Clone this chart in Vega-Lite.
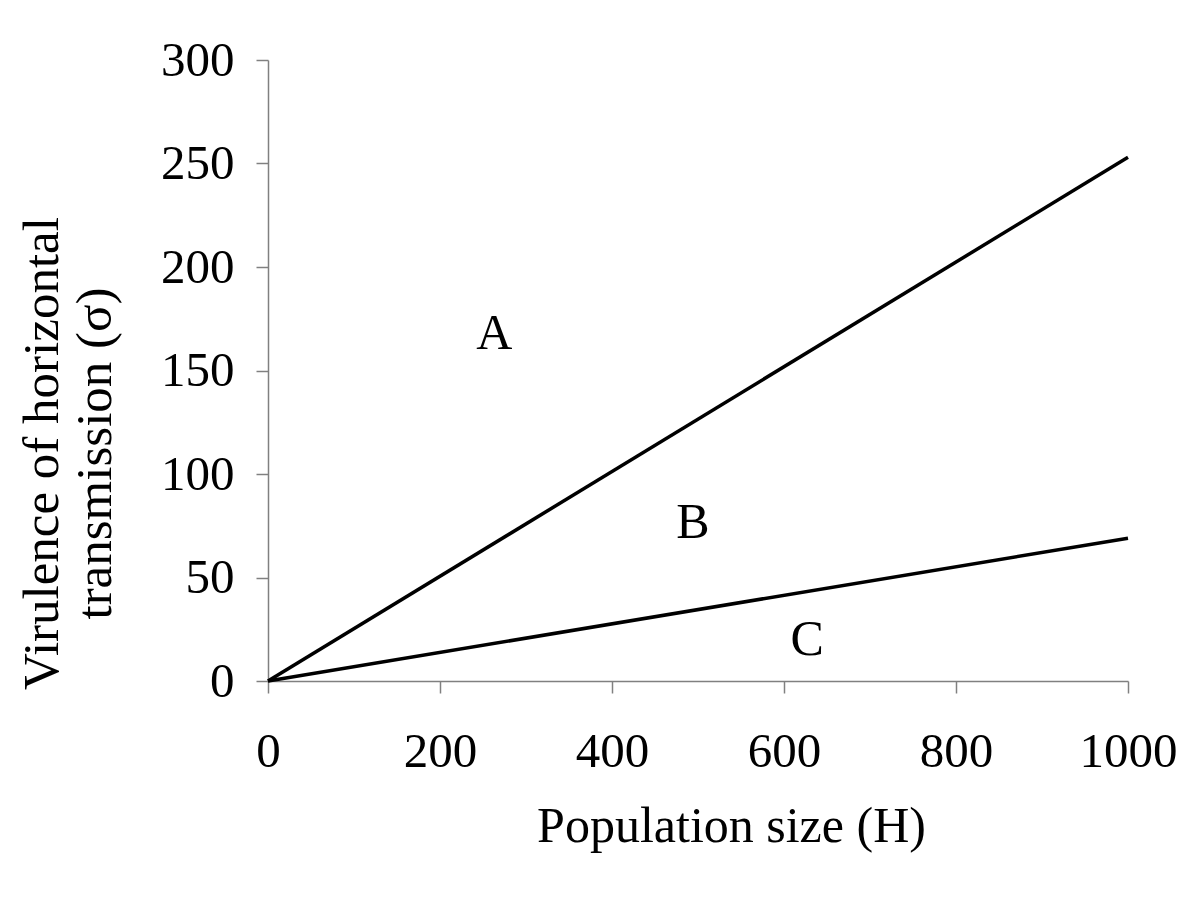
{
  "$schema": "https://vega.github.io/schema/vega-lite/v6.json",
  "autosize": {"type": "none"},
  "padding": {"left": 268, "top": 60, "right": 72, "bottom": 220},
  "width": 860,
  "height": 621,
  "background": "white",
  "config": {
    "view": {"stroke": null},
    "font": "Liberation Serif",
    "axis": {"grid": false}
  },
  "datasets": {
    "lines": [
      {"H": 0, "sigma": 0, "boundary": "upper"},
      {"H": 1000, "sigma": 253, "boundary": "upper"},
      {"H": 0, "sigma": 0, "boundary": "lower"},
      {"H": 1000, "sigma": 69, "boundary": "lower"}
    ],
    "labels": [
      {"H": 263, "sigma": 160.5, "region": "A"},
      {"H": 494, "sigma": 69.3, "region": "B"},
      {"H": 627, "sigma": 12.4, "region": "C"}
    ]
  },
  "layer": [
    {
      "data": {"name": "lines"},
      "mark": {"type": "line", "color": "black", "strokeWidth": 3.5},
      "encoding": {
        "x": {
          "field": "H", "type": "quantitative",
          "scale": {"domain": [0, 1000], "nice": false, "zero": false},
          "axis": {
            "values": [0, 200, 400, 600, 800, 1000],
            "format": "d",
            "title": "Population size (H)",
            "titleFont": "Liberation Serif", "titleFontSize": 50, "titleFontWeight": "normal", "titleColor": "black",
            "titleX": 463, "titleY": 160, "titleBaseline": "alphabetic", "titleAlign": "center", "titleAnchor": null,
            "labelFont": "Liberation Serif", "labelFontSize": 49, "labelColor": "black",
            "labelPadding": 34, "labelFlush": false, "labelOverlap": false,
            "tickSize": 12, "tickColor": "#808080", "tickWidth": 1.5,
            "domainColor": "#808080", "domainWidth": 1.5
          }
        },
        "y": {
          "field": "sigma", "type": "quantitative",
          "scale": {"domain": [0, 300], "nice": false},
          "axis": {
            "values": [0, 50, 100, 150, 200, 250, 300],
            "format": "d",
            "title": ["Virulence of horizontal", "transmission (σ)"],
            "titleFont": "Liberation Serif", "titleFontSize": 51, "titleFontWeight": "normal", "titleColor": "black",
            "titleAngle": -90, "titleX": -211, "titleY": 393, "titleBaseline": "alphabetic", "titleAlign": "center",
            "titleLineHeight": 53, "titleAnchor": null,
            "labelFont": "Liberation Serif", "labelFontSize": 49, "labelColor": "black",
            "labelPadding": 22, "labelFlush": false, "labelOverlap": false,
            "tickSize": 12, "tickColor": "#808080", "tickWidth": 1.5,
            "domainColor": "#808080", "domainWidth": 1.5
          }
        },
        "detail": {"field": "boundary", "type": "nominal"}
      }
    },
    {
      "data": {"name": "labels"},
      "mark": {"type": "text", "font": "Liberation Serif", "fontSize": 50, "color": "black", "align": "center", "baseline": "alphabetic"},
      "encoding": {
        "x": {"field": "H", "type": "quantitative"},
        "y": {"field": "sigma", "type": "quantitative"},
        "text": {"field": "region", "type": "nominal"}
      }
    }
  ]
}
